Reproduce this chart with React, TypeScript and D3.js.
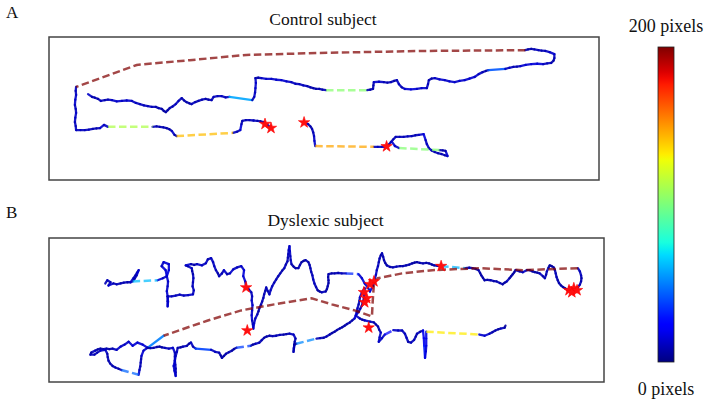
import React, { useEffect, useRef } from 'react'
import * as d3 from 'd3'

// gaze samples in screen pixels: [x, y, saccade?] - third value 1 means the step into this point is a saccade (dashed)
const controlTrace1 = [
  [98,143],[108,150],[115,152],[123,155],[130,160],[140,158],[148,157],[158,158],[170,161],[183,160],[195,159],[208,160],[218,165],[228,168],[238,171],[248,173],[258,175],[268,175],[275,178],[283,180],[288,185],[293,188],[298,183],[303,178],[310,174],[318,168],[325,160],[333,153],[339,159],[345,163],[352,166],[358,168],[367,163],[375,160],[384,157],[393,155],[400,157],[408,158],[413,150],[423,148],[433,148],[443,151],[453,150],
  [510,158],[515,150],[517,139],[518,128],[519,115],[518,103],[525,102],[533,103],[545,105],[558,105],[570,107],[583,108],[596,111],[608,113],[618,117],[628,118],[638,121],[648,123],[656,126],[663,128],[670,130],[678,130],[686,132],[695,133],
  [798,133,1],
  [806,132],[813,130],[814,121],[815,113],[828,112],[840,113],[849,114],[858,113],[866,110],[873,108],[878,118],[885,126],[893,130],[908,131],[923,130],[935,128],[948,128],[951,118],[953,108],[960,104],[968,103],[980,106],[993,108],[1005,111],[1018,113],[1030,110],[1043,108],[1055,104],[1068,100],[1078,93],[1088,88],[1096,85],[1103,83],
  [1145,80],[1155,77],[1165,75],[1174,74],[1183,73],[1196,70],[1210,68],[1225,67],[1240,68],[1250,66],[1260,65],[1266,59],[1268,53],[1268,43],[1256,38],[1245,35],[1236,34],[1228,33],[1218,31],[1210,30],[1202,31],[1195,33],
  [928,35,1],[678,40,1],[495,45,1],[353,58,1],[220,70,1],[68,125,1],
  [67,135],[68,145],[66,157],[65,170],[67,180],[68,190],[66,202],[65,213],[67,223],[68,233],[79,233],[90,233],[100,232],[110,230],[119,229],[128,228],[138,220],[148,225],
  [260,225,1],
  [270,224],[278,225],[287,226],[295,228],[302,231],[308,235],[315,245],[320,248],
  [462,240,1],
  [472,237],[480,233],[483,218],[485,210],[494,208],[503,208],[513,209],[523,210],[531,211],[538,213],[548,220],[558,228]
]
const controlTrace2 = [
  [640,214],[650,218],[656,224],[660,230],[663,239],[665,248],[666,260],[668,273],
  [815,275,1],
  [825,275],[835,275],[848,275],[853,269],[858,263],[864,256],[870,250],[880,250],[890,250],[900,249],[910,248],[919,246],[928,245],[940,243],[945,258],[948,268],[953,278],[960,284],[968,288],[976,291],[985,293],[993,296],[1000,298],[995,285],[988,284],[980,283],
  [878,278,1],
  [868,273],[860,262]
]
const controlStars = [[542,218],[557,228],[640,214],[847,274]]

const dyslexicTrace = [
  [140,113],[145,105],[153,110],[148,118],[160,113],[168,115],[178,113],[186,111],[195,110],[203,110],[210,100],[215,93],[219,86],[223,80],[218,93],[213,101],[208,108],
  [270,105,1],
  [283,100],[293,95],[290,80],[280,70],[285,60],[298,65],[298,80],[293,95],[296,108],[295,120],[293,132],[295,145],[296,158],[295,170],[295,157],[295,145],[305,145],[315,143],[325,141],[335,143],[346,142],[358,140],[360,130],[357,120],[358,110],[359,100],[358,90],[356,82],[355,75],[345,70],[340,68],[353,65],[361,67],[368,65],[380,68],[390,63],[395,53],[403,50],[408,60],[411,70],[415,80],[420,88],[423,95],[430,88],[435,80],[443,90],[450,88],[458,78],[468,73],[478,70],[485,80],[483,95],[488,108],[490,120],
  [497,128],[503,135],[505,145],[504,155],[506,167],[505,180],[504,192],[505,205],[507,215],[508,225],[510,212],[513,200],[518,190],[521,182],[523,175],[527,166],[530,158],[533,149],[535,140],[538,131],[540,123],[544,132],[548,140],[551,130],[555,120],[560,111],[565,103],[570,95],[575,88],[580,81],[585,75],[589,66],[593,58],[594,49],[595,40],[596,30],[598,20],[599,33],[600,45],[601,55],[603,65],[608,71],[613,75],[620,75],[624,67],[628,60],[633,57],[638,55],[645,60],[648,67],[650,75],[652,84],[655,93],[657,103],[660,113],[664,122],[668,130],[673,133],[678,135],[688,133],[691,127],[693,120],[695,112],[695,105],[694,97],[695,90],[703,88],[710,88],[719,87],[728,88],[738,88],
  [770,90,1],
  [778,100],[785,113],[793,123],[798,133],[805,120],[808,112],[810,103],[813,91],[815,80],[818,70],[820,60],[822,51],[825,43],[828,38],[831,47],[833,55],[836,62],[840,68],[848,72],[855,73],[864,71],[873,70],[880,70],[888,68],[896,66],[903,63],[909,61],[915,60],[922,62],[930,63],[938,62],[945,63],[952,66],[958,68],[966,69],[975,70],
  [1035,75,1],
  [1045,74],[1053,75],[1061,77],[1068,80],[1072,87],[1075,93],[1079,99],[1083,105],[1090,104],[1098,105],[1106,107],[1113,108],[1121,112],[1128,115],[1133,111],[1138,108],[1145,100],[1149,95],[1153,90],[1157,85],[1160,80],[1170,83],[1178,85],[1188,80],[1195,80],[1202,83],[1208,85],[1214,86],[1220,88],[1228,95],[1233,100],[1236,91],[1238,83],[1242,74],[1245,68],[1250,70],[1255,73],[1258,80],[1260,88],[1262,97],[1265,105],[1268,112],[1273,118],[1278,122],[1283,125],[1288,128],[1293,130],[1299,131],[1305,130],[1310,127],[1315,123],[1320,116],[1323,108],[1324,100],[1323,93],[1320,83],[1315,75],
  [1178,80,1],[1070,75,1],[953,80,1],[878,88,1],[818,100,1],[808,113,1],[805,155,1],[803,195,1],[760,180,1],[703,165,1],[653,150,1],[560,165,1],[478,180,1],[395,205,1],[285,243,1],
  [245,273],[233,265],[220,260],[208,268],[198,258],[188,265],[178,270],[168,278],[158,275],[150,276],[143,275],[135,276],[128,275],[121,277],[115,280],[105,285],[103,290],[113,290],[120,285],[128,280],[140,278],[145,288],[146,296],[148,305],[152,312],[158,318],[165,322],[173,325],[180,328],
  [223,340,1],
  [225,328],[227,319],[228,310],[229,301],[230,293],[235,280],[245,273],[252,274],[260,273],[268,271],[275,270],[281,272],[288,273],[298,275],[308,273],[313,285],[313,295],[313,305],[314,315],[315,325],[315,334],[315,343],[312,330],[310,318],[313,305],[315,293],[318,283],[320,273],[327,272],[333,270],[343,268],[348,263],[353,260],[358,270],[365,275],
  [403,278],[413,283],[423,285],[427,292],[430,298],[435,293],[440,288],[447,284],[455,280],[460,276],[466,273],
  [502,268,1],
  [507,265],[513,263],[523,260],[529,254],[535,248],[541,245],[548,243],[556,244],[565,243],[574,241],[583,240],[590,239],[598,238],[608,240],[613,250],[611,258],[610,265],[609,274],[608,283],[609,274],[610,265],[615,263],
  [665,250,1],
  [674,249],[683,248],[690,245],[698,240],[704,236],[710,233],[716,229],[723,225],[729,222],[735,218],[741,214],[748,210],[754,205],[760,200],[765,185],[767,175],[770,165],[772,156],[773,148],[778,135],[785,125],[784,138],[783,150],[780,160],[778,168],[774,176],[770,183],[763,193],[773,200],[779,203],[785,205],[798,208],[808,210],[813,215],[818,220],[821,228],[825,235],[822,247],[820,258],[828,249],[835,240],
  [856,229,1],
  [868,230],[878,230],[885,238],[889,248],[893,258],[900,260],[908,253],[912,245],[915,238],[923,233],[930,230],[932,249],[933,268],[935,298],[937,282],[938,268],[938,250],[938,233],
  [1070,240,1],
  [1083,243],[1095,238],[1103,234],[1110,230],[1117,227],[1123,225],[1133,223],[1135,218]
]
const dyslexicStars = [[490,123],[493,230],[975,70],[808,108],[798,115],[783,135],[790,150],[785,160],[795,223],[1293,130],[1305,125],[1300,135],[1313,130]]

const panelTitles = ['Control subject', 'Dyslexic subject']
const panelLetters = ['A', 'B']
const colorbarLabels = ['0 pixels', '200 pixels']
const distanceRange = [0, 200]
const screenX = [0, 1380]
const screenY = [0, 358]

// matplotlib jet
const jetR = d3.scaleLinear().domain([0, 0.35, 0.66, 0.89, 1]).range([0, 0, 1, 1, 0.5]).clamp(true)
const jetG = d3.scaleLinear().domain([0, 0.125, 0.375, 0.64, 0.91, 1]).range([0, 0, 1, 1, 0, 0]).clamp(true)
const jetB = d3.scaleLinear().domain([0, 0.11, 0.34, 0.65, 1]).range([0.5, 1, 1, 0, 0]).clamp(true)
const jet = (t: number) => d3.rgb(jetR(t) * 255, jetG(t) * 255, jetB(t) * 255).formatHex()

const dist = (a: number[], b: number[]) => Math.hypot(a[0] - b[0], a[1] - b[1])

// split a trace into solid steps and dashed saccade runs
function buildSegments(trace: number[][]) {
  const out: { pts: number[][]; dashed: boolean; d: number }[] = []
  let i = 1
  while (i < trace.length) {
    if (trace[i][2]) {
      const start = i - 1
      while (i < trace.length && trace[i][2]) i++
      const pts = trace.slice(start, i)
      out.push({ pts, dashed: true, d: dist(pts[0], pts[pts.length - 1]) })
    } else {
      out.push({ pts: [trace[i - 1], trace[i]], dashed: false, d: dist(trace[i - 1], trace[i]) })
      i++
    }
  }
  return out
}

export default function App() {
  const ref = useRef<SVGSVGElement>(null)
  useEffect(() => {
    const svg = d3.select(ref.current)
    svg.selectAll('*').remove()
    const font = '"Liberation Serif", "Times New Roman", serif'
    const colorT = d3.scaleLinear().domain(distanceRange).range([0, 1]).clamp(true)

    const panels = [
      { traces: [controlTrace1, controlTrace2], stars: controlStars, box: [49, 37, 599, 180], titleY: 25, letterY: 18 },
      { traces: [dyslexicTrace], stars: dyslexicStars, box: [49, 238, 604, 382], titleY: 226, letterY: 218 },
    ]

    panels.forEach((p, k) => {
      const [x0, y0, x1, y1] = p.box
      const x = d3.scaleLinear().domain(screenX).range([x0, x1])
      const y = d3.scaleLinear().domain(screenY).range([y0, y1])
      const g = svg.append('g')
      g.append('rect').attr('x', x0).attr('y', y0).attr('width', x1 - x0).attr('height', y1 - y0)
        .attr('fill', 'none').attr('stroke', '#444').attr('stroke-width', 1.5)
      g.append('text').text(panelTitles[k]).attr('x', (x0 + x1) / 2 - 1).attr('y', p.titleY)
        .attr('text-anchor', 'middle').attr('font-family', font).attr('font-size', 17.5).attr('fill', '#111')
      g.append('text').text(panelLetters[k]).attr('x', 6).attr('y', p.letterY)
        .attr('font-family', font).attr('font-size', 17).attr('fill', '#111')

      const line = d3.line<number[]>().x(d => x(d[0])).y(d => y(d[1]))
      const segs = p.traces.flatMap(buildSegments)
      g.selectAll('path.solid').data(segs.filter(s => !s.dashed)).join('path')
        .attr('class', 'solid')
        .attr('d', s => line(s.pts))
        .attr('fill', 'none')
        .attr('stroke', s => jet(colorT(s.d)))
        .attr('stroke-width', 2.3)
        .attr('stroke-linecap', 'round')
        .attr('stroke-opacity', 0.9)
      g.selectAll('path.sacc').data(segs.filter(s => s.dashed)).join('path')
        .attr('class', 'sacc')
        .attr('d', s => line(s.pts))
        .attr('fill', 'none')
        .attr('stroke', s => jet(colorT(s.d)))
        .attr('stroke-width', 2.5)
        .attr('stroke-dasharray', '7.5,3.5')
        .attr('stroke-opacity', 0.72)
      g.selectAll('path.star').data(p.stars).join('path')
        .attr('class', 'star')
        .attr('d', d3.symbol().type(d3.symbolStar).size(40)())
        .attr('transform', d => `translate(${x(d[0])},${y(d[1])})`)
        .attr('fill', '#ff1010').attr('stroke', '#ff0000').attr('stroke-width', 0.6)
    })

    // colorbar
    const cb = { x: 658, y0: 47, y1: 362, w: 16 }
    const defs = svg.append('defs')
    const grad = defs.append('linearGradient').attr('id', 'jetGrad').attr('x1', 0).attr('x2', 0).attr('y1', 1).attr('y2', 0)
    d3.range(0, 1.0001, 0.02).forEach(t => {
      grad.append('stop').attr('offset', t).attr('stop-color', jet(t))
    })
    const cy = d3.scaleLinear().domain(distanceRange).range([cb.y1, cb.y0])
    svg.append('rect').attr('x', cb.x).attr('y', cy(distanceRange[1])).attr('width', cb.w)
      .attr('height', cy(distanceRange[0]) - cy(distanceRange[1]))
      .attr('fill', 'url(#jetGrad)').attr('stroke', '#222').attr('stroke-width', 0.8)
    svg.selectAll('text.cbl').data(colorbarLabels).join('text')
      .attr('class', 'cbl')
      .text(d => d)
      .attr('x', cb.x + cb.w / 2)
      .attr('y', (d, i) => (i === 0 ? cy(distanceRange[0]) + 33 : cy(distanceRange[1]) - 15))
      .attr('text-anchor', 'middle').attr('font-family', font).attr('font-size', 18).attr('fill', '#111')
  }, [])
  return (
    <svg ref={ref} width={710} height={404} style={{ position: 'absolute', left: 0, top: 0, background: '#fff' }} />
  )
}
